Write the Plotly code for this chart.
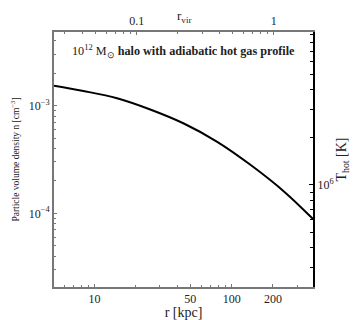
## hot gas density profile of a 10^12 Msun halo ##

import plotly.graph_objects as go

# density profile
r_kpc = [5.07, 8.31, 14.6, 25.5, 44.8, 78.5, 137.8, 241.6, 392.0]
n_cm3 = [1.534e-3, 1.37e-3, 1.173e-3, 9.22e-4, 6.83e-4, 4.62e-4, 2.81e-4, 1.59e-4, 8.85e-5]

# virial radius used for the top axis (kpc)
r_vir = 203.0

# tick labels
x_ticks = [10, 50, 100, 200]
x_ticktext = ['10', '50', '100', '200']
top_ticks = [0.1, 1]
top_ticktext = ['0.1', '1']
y_ticks = [1e-4, 1e-3]
y_ticktext = ['10<sup>−4</sup>', '10<sup>−3</sup>']
t_ticks = [1e6]
t_ticktext = ['10<sup>6</sup>']

font = 'Liberation Serif'
ink = '#222222'
frame = '#777777'


def minor_vals(lo, hi):
    vals = []
    for e in range(lo, hi):
        for m in range(2, 10):
            vals.append(m * 10 ** e)
    return vals


fig = go.Figure()
fig.add_trace(go.Scatter(x=r_kpc, y=n_cm3, mode='lines',
                         line=dict(color='black', width=2, shape='spline'),
                         hoverinfo='skip', showlegend=False))
# empty trace so the r_vir and T_hot axes get drawn
fig.add_trace(go.Scatter(x=[r / r_vir for r in r_kpc], y=[None] * len(r_kpc),
                         xaxis='x2', yaxis='y2', mode='lines',
                         hoverinfo='skip', showlegend=False))

# page body adds 8px, so the figure is a bit smaller than the window
fig.update_layout(
    width=352, height=312,
    margin=dict(l=46, r=47, t=24, b=33),
    paper_bgcolor='white', plot_bgcolor='white',
    font=dict(family=font, color=ink, size=12),
    showlegend=False,
    xaxis=dict(type='log', range=[0.705, 2.593], automargin=False,
               tickmode='array', tickvals=x_ticks, ticktext=x_ticktext,
               ticks='inside', ticklen=3, tickcolor=frame,
               minor=dict(tickvals=minor_vals(0, 3), ticks='inside', ticklen=2, tickcolor=frame),
               showline=True, linecolor=frame, linewidth=2,
               showgrid=False, zeroline=False,
               tickfont=dict(size=12),
               title=dict(text='r [kpc]', font=dict(size=14), standoff=2)),
    xaxis2=dict(type='log', overlaying='x', side='top', anchor='y2',
                range=[0.705 - 2.3075, 2.593 - 2.3075], automargin=False,
                tickmode='array', tickvals=top_ticks, ticktext=top_ticktext,
                ticks='inside', ticklen=3, tickcolor=frame,
                minor=dict(tickvals=minor_vals(-2, 1), ticks='inside', ticklen=2, tickcolor=frame),
                showline=True, linecolor=frame, linewidth=2,
                showgrid=False, zeroline=False,
                tickfont=dict(size=12)),
    yaxis=dict(type='log', range=[-4.685, -2.315], automargin=False,
               tickmode='array', tickvals=y_ticks, ticktext=y_ticktext,
               ticks='inside', ticklen=3, tickcolor=frame,
               minor=dict(tickvals=minor_vals(-5, -2), ticks='inside', ticklen=2, tickcolor=frame),
               showline=True, linecolor=frame, linewidth=2,
               showgrid=False, zeroline=False,
               tickfont=dict(size=12),
               title=dict(text='Particle volume density n [cm<sup>−3</sup>]',
                          font=dict(size=9.5), standoff=7)),
    yaxis2=dict(type='log', overlaying='y', side='right', anchor='x2',
                range=[5.354, 6.968], automargin=False,
                tickmode='array', tickvals=t_ticks, ticktext=t_ticktext,
                ticks='inside', ticklen=4, tickcolor='black',
                minor=dict(tickvals=minor_vals(5, 7), ticks='inside', ticklen=3, tickcolor='black'),
                showline=True, linecolor='black', linewidth=2,
                showgrid=False, zeroline=False,
                tickfont=dict(size=12),
                title=dict(text='T<sub>hot</sub> [K]', font=dict(size=14), standoff=4)),
)

# top axis title
fig.add_annotation(text='r<sub>vir</sub>', xref='paper', yref='paper',
                   x=0.5, y=1, yshift=16, xanchor='center', yanchor='middle',
                   showarrow=False, font=dict(size=13, color=ink))

fig.add_annotation(
    text='10<sup>12</sup> M<sub>⊙</sub> <b>halo with adiabatic hot gas profile</b>',
    xref='paper', yref='paper', x=0.5, y=0.925, xanchor='center', yanchor='middle',
    showarrow=False, font=dict(size=12.2, color=ink))

fig.write_html('out.html')
